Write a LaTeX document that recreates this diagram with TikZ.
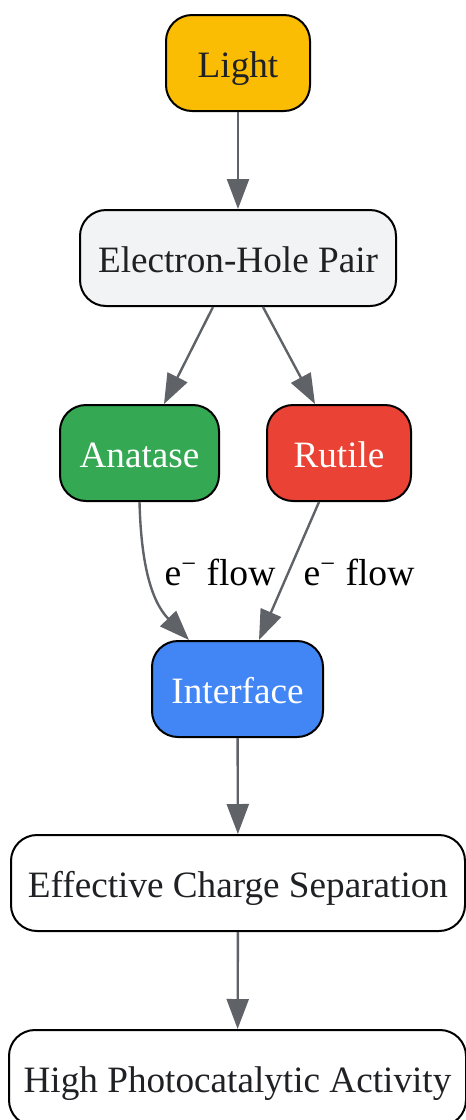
\documentclass[tikz,border=0pt]{standalone}
\usepackage{fontspec}
\setmainfont{Liberation Serif}
\usetikzlibrary{arrows.meta}
\definecolor{cyellow}{HTML}{FBBC04}
\definecolor{cgreyfill}{HTML}{F1F3F4}
\definecolor{cgreen}{HTML}{34A853}
\definecolor{cred}{HTML}{EA4335}
\definecolor{cblue}{HTML}{4285F4}
\definecolor{cedge}{HTML}{5F6368}
\definecolor{ctext}{HTML}{202124}
\tikzset{
  box/.style={draw=black, line width=1pt, rounded corners=13pt, minimum height=48pt, inner sep=0pt,
    text height=14pt, text depth=0pt,
    font=\fontsize{18.6}{22}\selectfont, text=ctext},
  darkbox/.style={box, text=white},
  conn/.style={draw=cedge, line width=1.2pt, -{Triangle[length=15pt,width=11pt]}},
  elabel/.style={font=\fontsize{18.8}{22}\selectfont, text=black, inner sep=0pt, text height=14pt, text depth=0pt},
}
\begin{document}
\begin{tikzpicture}[x=0.5pt,y=-0.5pt]
\useasboundingbox (0,0) rectangle (466,1120);
\node[box, fill=cyellow, minimum width=72pt] (light) at (238,63) {Light};
\node[box, fill=cgreyfill, minimum width=158pt] (ehp) at (238,258) {Electron-Hole Pair};
\node[darkbox, fill=cgreen, minimum width=79.5pt] (ana) at (139.5,453) {Anatase};
\node[darkbox, fill=cred, minimum width=72pt] (rut) at (339,453) {Rutile};
\node[darkbox, fill=cblue, minimum width=85.5pt] (int) at (237.5,689) {Interface};
\node[box, fill=white, minimum width=227pt] (ecs) at (238,883) {Effective Charge Separation};
\node[box, fill=white, minimum width=228.5pt] (hpa) at (237.5,1078) {High Photocatalytic Activity};

\draw[conn] (light) -- (ehp);
\draw[conn] ([xshift=-12.5pt]ehp.south) -- ([xshift=12.25pt]ana.north);
\draw[conn] ([xshift=12.5pt]ehp.south) -- ([xshift=-12pt]rut.north);
\draw[conn] (ana.south) .. controls (141,560) and (150,600) .. ([xshift=-24.25pt]int.north);
\draw[conn] ([xshift=-10pt]rut.south) -- ([xshift=10.75pt]int.north);
\draw[conn] (int) -- (ecs);
\draw[conn] (ecs) -- (hpa);

\node[elabel] (l1) at (220,571) {e\textsuperscript{−} flow};
\node[elabel] (l2) at (359,571) {e\textsuperscript{−} flow};
\end{tikzpicture}
\end{document}
